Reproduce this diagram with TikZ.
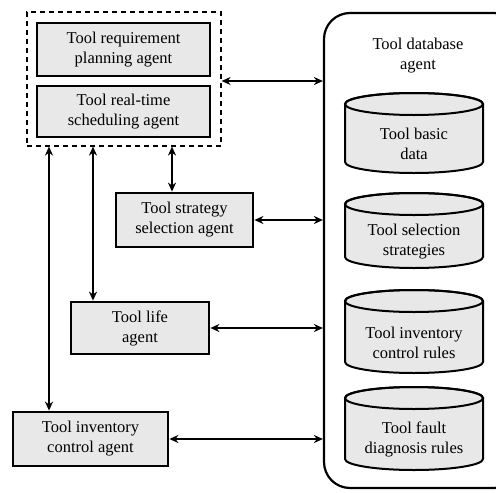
\documentclass[tikz,border=0pt]{standalone}
\usepackage{fontspec}
\setmainfont{Liberation Serif}
\usetikzlibrary{arrows.meta}
\definecolor{boxfill}{HTML}{E8E8E8}
\tikzset{
  agent/.style={draw, line width=2.8pt, fill=boxfill, align=center, inner sep=0pt},
  link/.style={line width=2pt, {Stealth[length=9pt,width=8pt]}-{Stealth[length=9pt,width=8pt]}},
  cyl/.style={draw, line width=2pt, fill=boxfill},
  lbl/.style={align=center, inner sep=0pt}
}
% cylinder: name, centre x, top y, bottom y, text (y measured downwards)
\newcommand{\dbcyl}[5]{%
  \path[cyl] (#2-69,-#3-11) -- (#2-69,-#4+11)
    arc[start angle=180, end angle=360, x radius=69pt, y radius=11pt]
    -- (#2+69,-#3-11)
    arc[start angle=0, end angle=180, x radius=69pt, y radius=11pt] -- cycle;
  \draw[line width=2pt] (#2,-#3-11) ellipse[x radius=69pt, y radius=11pt];
  \node[lbl] (#1) at (#2,{-(#3+22+#4)/2}) {#5};
}
\begin{document}
\begin{tikzpicture}[x=1pt,y=1pt,font=\fontsize{16.5}{20}\selectfont]
\useasboundingbox (0,0) rectangle (496,-493);
\begin{scope}
\clip (0,0) rectangle (496,-493);
% database agent container
\node[draw, line width=2.2pt, rounded corners=26pt, minimum width=196pt, minimum height=475pt, inner sep=0pt]
  (db) at (422,-250.5) {};
\end{scope}
\node[lbl] (dbtitle) at (418,-56) {Tool database\\agent};
\dbcyl{c1}{414}{93}{173}{Tool basic\\data}
\dbcyl{c2}{414}{193}{268}{Tool selection\\strategies}
\dbcyl{c3}{414}{290}{373}{Tool inventory\\control rules}
\dbcyl{c4}{414}{387}{470}{Tool fault\\diagnosis rules}
% planning group
\node[draw, dash pattern=on 5pt off 4pt, line width=1.2pt, minimum width=194pt, minimum height=134pt, inner sep=0pt]
  (grp) at (124,-79) {};
\node[agent, minimum width=173pt, minimum height=53pt] (plan) at (123.5,-49.5) {Tool requirement\\planning agent};
\node[agent, minimum width=173pt, minimum height=51pt] (sched) at (123.5,-111.5) {Tool real-time\\scheduling agent};
% other agents
\node[agent, minimum width=137pt, minimum height=54pt] (strat) at (184.5,-220) {Tool strategy\\selection agent};
\node[agent, minimum width=138pt, minimum height=52pt] (life) at (140,-328) {Tool life\\agent};
\node[agent, minimum width=155pt, minimum height=54pt] (inv) at (90.5,-439) {Tool inventory\\control agent};
% links to the database agent
\draw[link] (grp.east |- 0,-81) -- (db.west |- 0,-81);
\draw[link] (strat.east) -- (db.west |- strat.east);
\draw[link] (life.east) -- (db.west |- life.east);
\draw[link] (inv.east) -- (db.west |- inv.east);
% links from the planning group
\draw[link] (grp.south -| 172,0) -- (strat.north -| 172,0);
\draw[link] (grp.south -| 93,0) -- (life.north -| 93,0);
\draw[link] (grp.south -| 49,0) -- (inv.north -| 49,0);
\end{tikzpicture}
\end{document}
